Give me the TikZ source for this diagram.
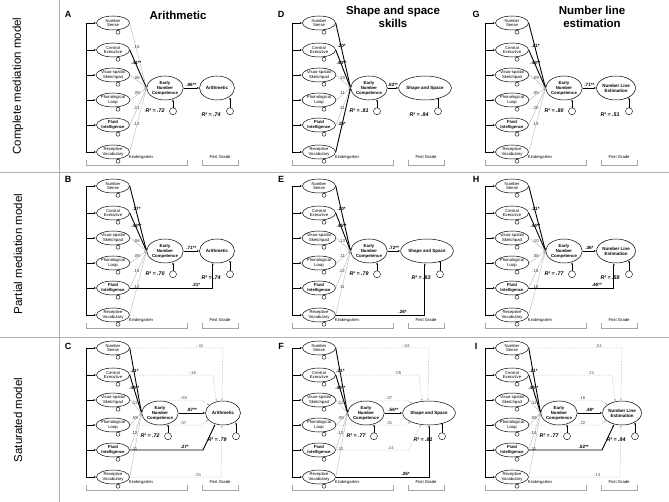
\documentclass[tikz,border=0pt]{standalone}
\usepackage{fontspec}
\setmainfont{Liberation Sans}
\usetikzlibrary{arrows.meta,calc,shapes.geometric}
\tikzset{
 tip/.style={-{Latex[length=2.2pt,width=1.8pt]}},
 pred/.style={ellipse,draw,line width=0.5pt,minimum width=33pt,minimum height=14pt,inner sep=0pt,align=center,font=\fontsize{4.2}{4.6}\selectfont},
 predb/.style={pred,font=\fontsize{4.2}{4.6}\selectfont\bfseries},
 encn/.style={ellipse,draw,line width=0.5pt,minimum width=31pt,minimum height=24pt,inner sep=0pt,align=center,font=\fontsize{4.3}{4.9}\selectfont\bfseries},
 outn/.style={ellipse,draw,line width=0.5pt,minimum width=35pt,minimum height=24pt,inner sep=0pt,align=center,font=\fontsize{4.5}{5.1}\selectfont\bfseries},
 thinp/.style={tip,draw=gray!70,line width=0.3pt},
 boldp/.style={tip,draw=black,line width=0.9pt},
 dotp/.style={tip,draw=gray!70,densely dotted,line width=0.5pt},
 thinp-lab/.style={font=\fontsize{4.3}{4}\selectfont,inner sep=0.6pt,pos=.4,above,text=black!80},
 boldp-lab/.style={font=\fontsize{4.6}{4}\selectfont\bfseries,inner sep=0.6pt,pos=.4,above},
 dotp-lab/.style={font=\fontsize{4.3}{4}\selectfont,inner sep=0.6pt,above,text=black!70},
 covar/.style={tip,line width=0.4pt},
 loopd/.style={line width=0.4pt},
 r2/.style={font=\fontsize{5.3}{5}\selectfont\bfseries\itshape},
 brk/.style={draw=gray!70,line width=0.4pt},
 brklab/.style={font=\fontsize{4.2}{4}\selectfont},
 title/.style={font=\fontsize{11.5}{13}\selectfont\bfseries,align=center},
 letter/.style={font=\fontsize{9}{9}\selectfont\bfseries},
 rowlab/.style={rotate=90,font=\fontsize{11.5}{12}\selectfont},
 sep/.style={draw=gray!60,line width=0.6pt}
}
% #1 name #2 L #3 T #4 encx #5 outx #6 outtext #7 r2e #8 r2o #9 enc->out coef
\newcommand\Panel[9]{%
\begin{scope}[shift={(#2,#3)}]
 \draw[line width=0.4pt] (0,23) -- (0,153);
 \foreach \i/\tx/\yy/\st in {1/{Number\\Sense}/23/pred,2/{Central\\Executive}/50/pred,3/{Visuo-spatial\\Sketchpad}/75/pred,4/{Phonological\\Loop}/100/pred,5/{Fluid\\Intelligence}/125/predb,6/{Receptive\\Vocabulary}/152/pred}{%
  \node[\st] (#1\i) at (27,\yy) {\tx};
  \draw[covar] (0,\yy) -- (#1\i.west);
  \draw[loopd] ($(#1\i.south)+(5,2)$) circle (2);
 }
 \node[encn] (#1e) at (#4,88) {Early\\Number\\Competence};
 \node[outn] (#1o) at (#5,88) {#6};
 \draw[boldp] (#1e) -- node[boldp-lab,pos=.5]{#9} (#1o);
 \coordinate (#1ea) at ($(#1e.south)+(8,11)$);
 \draw[loopd,tip] (#1ea) ++(0,-3.5) -- ($(#1e.south)+(8,-1)$);
 \draw[loopd] (#1ea) circle (3.5);
 \node[r2] at ($(#1e.south)+(-10,10)$) {R² = #7};
 \coordinate (#1oa) at ($(#1o.south)+(13,11)$);
 \draw[loopd,tip] (#1oa) ++(0,-3.5) -- ($(#1o.south)+(13,-3)$);
 \draw[loopd] (#1oa) circle (3.5);
 \node[r2] at ($(#1o.south)+(-6,14)$) {R² = #8};
 \draw[brk] (0,160) -- (0,165) -- (101,165) -- (101,160);
 \draw[brk] (116,160) -- (116,165) -- (152,165) -- (152,160);
 \node[brklab] at (55,157) {Kindergarten};
 \node[brklab] at (134,157) {First Grade};
\end{scope}}
\newcommand\Preds[2]{\foreach \i/\c/\st in {#2}{\draw[\st] (#1\i.east) -- node[\st-lab]{\c} (#1e.west);}}
% #1 name #2 index #3 xshift #4 anchor #5 label #6 style
\newcommand\Direct[6]{\draw[#6] (#1#2.east) -- node[#6-lab,pos=.75]{#5} ([xshift=#3]#1#2.east -| #1o.center) -- (#1o.#4);}
\begin{document}
\begin{tikzpicture}[x=1pt,y=-1pt]
\useasboundingbox (0,0) rectangle (669,502);
\draw[sep] (0,172) -- (669,172);
\draw[sep] (0,337) -- (669,337);
\draw[sep] (59,0) -- (59,502);
\node[rowlab] (r1) at (18,86) {Complete mediation model};
\node[rowlab] (r2) at (18,254) {Partial mediation model};
\node[rowlab] (r3) at (18,420) {Saturated model};
\node[title] (tA) at (178,15) {Arithmetic};
\node[title] (tD) at (393,17) {Shape and space\\skills};
\node[title] (tG) at (592,17) {Number line\\estimation};
\node[letter] at (68,14) {A};
\node[letter] at (68,179) {B};
\node[letter] at (68,346) {C};
\node[letter] at (281,14) {D};
\node[letter] at (281,179) {E};
\node[letter] at (281,346) {F};
\node[letter] at (476,14) {G};
\node[letter] at (476,179) {H};
\node[letter] at (476,346) {I};
% A
\Panel{A}{86}{0}{79}{131}{Arithmetic}{.72}{.74}{.86**}
\Preds{A}{1/.15/thinp,2/.41**/boldp,3/.06/thinp,4/.09/thinp,5/.21/thinp,6/.12/thinp}
% B
\Panel{B}{86}{163}{79}{131}{Arithmetic}{.70}{.74}{.71**}
\Preds{B}{1/.17*/boldp,2/.42**/boldp,3/.06/thinp,4/.09/thinp,5/.15/thinp,6/.12/thinp}
\draw[boldp] (B5.east) -- node[boldp-lab,pos=.8]{.21*} (B5.east -| Bo.250) -- (Bo.250);
% C
\Panel{C}{86}{325}{74}{137}{Arithmetic}{.72}{.79}{.87**}
\Preds{C}{1/.21*/boldp,2/.44**/boldp,3/.12/thinp,4/.09/thinp,5/.12/thinp,6/.11/thinp}
\Direct{C}{1}{0pt}{95}{-.11}{dotp}
\Direct{C}{2}{-10pt}{120}{-.16}{dotp}
\Direct{C}{3}{-22pt}{150}{-.08}{dotp}
\Direct{C}{4}{-22pt}{205}{.07}{dotp}
\Direct{C}{5}{-20pt}{235}{.27*}{boldp}
\Direct{C}{6}{-2pt}{265}{.01}{dotp}
% D
\Panel{D}{292}{0}{77}{133}{Shape and Space}{.81}{.84}{.82**}
\Preds{D}{1/.20*/boldp,2/.43**/boldp,3/.15/thinp,4/.11/thinp,5/.11/thinp,6/.15*/boldp}
% E
\Panel{E}{292}{163}{77}{135}{Shape and Space}{.79}{.83}{.72**}
\Preds{E}{1/.20*/boldp,2/.45**/boldp,3/.13/thinp,4/.11/thinp,5/.12/thinp,6/.11/thinp}
\draw[boldp] (E6.east) -- node[boldp-lab,pos=.75]{.26*} (E6.east -| Eo.260) -- (Eo.260);
% F
\Panel{F}{292}{325}{74}{137}{Shape and Space}{.77}{.81}{.56**}
\Preds{F}{1/.21*/boldp,2/.44**/boldp,3/.12/thinp,4/.09/thinp,5/.12/thinp,6/.11/thinp}
\Direct{F}{1}{0pt}{95}{-.04}{dotp}
\Direct{F}{2}{-10pt}{120}{.05}{dotp}
\Direct{F}{3}{-22pt}{150}{.07}{dotp}
\Direct{F}{4}{-22pt}{205}{.01}{dotp}
\Direct{F}{5}{-20pt}{235}{.14}{dotp}
\Direct{F}{6}{0pt}{270}{.26*}{boldp}
% G
\Panel{G}{485}{0}{79}{131}{Number Line\\Estimation}{.80}{.51}{.71**}
\Preds{G}{1/.21*/boldp,2/.43**/boldp,3/.09/thinp,4/.05/thinp,5/.20/thinp,6/.13/thinp}
% H
\Panel{H}{485}{163}{79}{131}{Number Line\\Estimation}{.77}{.58}{.36*}
\Preds{H}{1/.21*/boldp,2/.44**/boldp,3/.10/thinp,4/.08/thinp,5/.15/thinp,6/.10/thinp}
\draw[boldp] (H5.east) -- node[boldp-lab,pos=.8]{.46**} (H5.east -| Ho.260) -- (Ho.260);
% I
\Panel{I}{485}{325}{74}{137}{Number Line\\Estimation}{.77}{.84}{.48*}
\Preds{I}{1/.21*/boldp,2/.44**/boldp,3/.11/thinp,4/.09/thinp,5/.14/thinp,6/.11/thinp}
\Direct{I}{1}{0pt}{95}{.21}{dotp}
\Direct{I}{2}{-10pt}{120}{.21}{dotp}
\Direct{I}{3}{-22pt}{150}{.16}{dotp}
\Direct{I}{4}{-22pt}{205}{.22}{dotp}
\Direct{I}{5}{-20pt}{235}{.52**}{boldp}
\Direct{I}{6}{-2pt}{265}{.13}{dotp}
\end{tikzpicture}
\end{document}
